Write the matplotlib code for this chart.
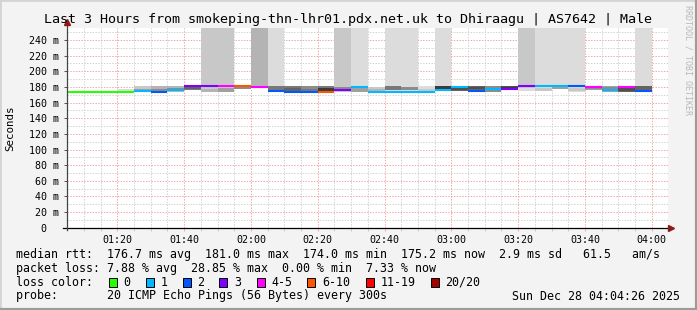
import numpy as np
import matplotlib.pyplot as plt
from matplotlib.patches import Rectangle
from matplotlib.lines import Line2D

# smokeping graph, 5 minute rrd steps starting 01:05 (minutes after midnight)
step_start = 65
step_len = 5

# median rtt per step (ms) and loss colour class index
median = [174, 174, 174, 174, 175, 174, 176.5, 181, 181, 181, 181, 180,
          175.2, 174, 174, 174, 176, 179.5, 174, 174, 174, 174, 175.5, 180,
          175, 178, 177, 181.5, 181, 181, 181, 180, 176.5, 180, 175.2]
loss_class = [0, 0, 0, 0, 1, 2, 1, 3, 3, 4, 5, 4,
              2, 2, 2, 5, 3, 1, 1, 1, 1, 1, 1, 1,
              2, 1, 3, 3, 1, 1, 2, 4, 1, 4, 2]

# smoke: outer band (all pings) and inner band, 300 = off the scale
outer_lo = [174, 174, 174, 174, 174, 174, 174, 176, 174, 173, 177, 177,
            175, 174, 174, 174, 174, 174, 174, 174, 174, 174, 175, 175,
            175, 174, 176, 175, 175, 177, 174, 176, 174, 174, 174]
outer_hi = [174, 174, 174, 178, 181, 181, 181, 181, 300, 300, 181, 300,
            300, 181, 181, 181, 300, 300, 180, 300, 300, 181, 300, 181,
            181, 181, 181, 300, 300, 300, 300, 180, 181, 180, 300]
outer_gray = ['#dcdcdc', '#dcdcdc', '#dcdcdc', '#dcdcdc', '#c8c8c8', '#b4b4b4',
              '#b4b4b4', '#787878', '#c8c8c8', '#c8c8c8', '#a0a0a0', '#b4b4b4',
              '#dcdcdc', '#787878', '#8c8c8c', '#787878', '#c8c8c8', '#dcdcdc',
              '#c8c8c8', '#dcdcdc', '#dcdcdc', '#dcdcdc', '#dcdcdc', '#646464',
              '#646464', '#8c8c8c', '#505050', '#c8c8c8', '#dcdcdc', '#dcdcdc',
              '#dcdcdc', '#a0a0a0', '#a0a0a0', '#646464', '#dcdcdc']
inner_lo = [174, 174, 174, 174, 175, 174, 176, 177, 174, 174, 178, 176,
            175, 175, 175, 175, 175, 174, 175, 176, 176, 175, 177, 176,
            177, 176, 178, 175, 175, 178, 175, 177, 177, 175, 176]
inner_hi = [174, 174, 174, 174, 178, 178, 179, 180, 177, 179, 181, 179,
            181, 179, 178, 179, 180, 179, 177, 181, 180, 178, 181, 179,
            180, 179, 180, 179, 179, 180, 179, 179, 180, 179, 181]
inner_gray = ['#dcdcdc', '#dcdcdc', '#dcdcdc', '#dcdcdc', '#a0a0a0', '#8c8c8c',
              '#8c8c8c', '#646464', '#b4b4b4', '#a0a0a0', '#8c8c8c', '#ffffff',
              '#787878', '#646464', '#787878', '#3c3c3c', '#8c8c8c', '#a0a0a0',
              '#b4b4b4', '#787878', '#8c8c8c', '#c8c8c8', '#3c3c3c', '#505050',
              '#505050', '#787878', '#3c3c3c', '#dcdcdc', '#c8c8c8', '#a0a0a0',
              '#c8c8c8', '#8c8c8c', '#8c8c8c', '#505050', '#646464']

loss_labels = ['0', '1', '2', '3', '4-5', '6-10', '11-19', '20/20']
loss_colors = ['#26ff00', '#00b8ff', '#0059ff', '#7e00ff', '#ff00ff',
               '#ff5500', '#ff0000', '#a10000']

xtick_minutes = [80, 100, 120, 140, 160, 180, 200, 220, 240]
xtick_labels = ['01:20', '01:40', '02:00', '02:20', '02:40', '03:00',
                '03:20', '03:40', '04:00']
ytick_values = [0, 20, 40, 60, 80, 100, 120, 140, 160, 180, 200, 220, 240]
ytick_labels = ['0  ', '20 m', '40 m', '60 m', '80 m', '100 m', '120 m',
                '140 m', '160 m', '180 m', '200 m', '220 m', '240 m']

title = 'Last 3 Hours from smokeping-thn-lhr01.pdx.net.uk to Dhiraagu | AS7642 | Male'
rtt_line = 'median rtt:  176.7 ms avg  181.0 ms max  174.0 ms min  175.2 ms now  2.9 ms sd   61.5   am/s'
loss_line = 'packet loss: 7.88 % avg  28.85 % max  0.00 % min  7.33 % now'
probe_line = 'probe:       20 ICMP Echo Pings (56 Bytes) every 300s'
stamp = 'Sun Dec 28 04:04:26 2025'

MONO = 'DejaVu Sans Mono'
W, H = 697, 310
BG = '#f3f3f3'


def fx(px):
    return px / W


def fy(py):
    return 1 - py / H


fig = plt.figure(figsize=(W / 100, H / 100), dpi=100, facecolor=BG)
ax = fig.add_axes([fx(66.7), fy(227.7), fx(668.3) - fx(66.7), fy(28.3) - fy(227.7)])
ax.set_facecolor('white')
ax.set_xlim(64.85, 244.97)
ax.set_ylim(0, 255)

# grid (minor grey, major red), dotted like rrdtool
for m in range(65, 245, 5):
    if m % 20 == 0:
        continue
    ax.axvline(m, color='#d2d2d2', lw=0.72, ls=(0, (1.4, 1.4)), zorder=1)
for v in range(10, 255, 20):
    ax.axhline(v, color='#d2d2d2', lw=0.72, ls=(0, (1.4, 1.4)), zorder=1)
for m in xtick_minutes:
    ax.axvline(m, color='#f2a8a8', lw=0.72, ls=(0, (1.4, 1.4)), zorder=1)
for v in ytick_values[1:]:
    ax.axhline(v, color='#f2a8a8', lw=0.72, ls=(0, (1.4, 1.4)), zorder=1)

t = step_start + step_len * np.arange(len(median))
olo = np.array(outer_lo, dtype=float)
ohi = np.array(outer_hi, dtype=float)
ilo = np.array(inner_lo, dtype=float)
ihi = np.array(inner_hi, dtype=float)

ax.bar(t, ohi - olo, bottom=olo, width=step_len, align='edge',
       color=outer_gray, linewidth=0, zorder=2)
ax.bar(t, ihi - ilo, bottom=ilo, width=step_len, align='edge',
       color=inner_gray, linewidth=0, zorder=3)
ax.hlines(median, t, t + step_len, colors=[loss_colors[c] for c in loss_class],
          lw=1.5, zorder=4)

# axes, ticks
for s in ax.spines.values():
    s.set_visible(False)
ax.set_xticks(xtick_minutes)
ax.set_xticklabels(xtick_labels, family=MONO, fontsize=7.2)
ax.set_yticks(ytick_values)
ax.set_yticklabels(ytick_labels, family=MONO, fontsize=7.2)
ax.set_xticks(list(range(65, 245, 5)), minor=True)
ax.tick_params(axis='x', which='major', length=2.2, width=0.7, color='#f2a8a8', pad=3)
ax.tick_params(axis='x', which='minor', length=2.2, width=0.7, color='#c8c8c8')
ax.tick_params(axis='y', which='major', length=2.5, width=0.7, color='#555555', pad=3)

ax.add_line(Line2D([-0.006, 1.004], [0, 0], transform=ax.transAxes, color='black',
                   lw=0.9, clip_on=False, zorder=6))
ax.add_line(Line2D([0, 0], [-0.01, 1.03], transform=ax.transAxes, color='#444444',
                   lw=0.9, clip_on=False, zorder=6))
ax.plot([1.004], [0], marker='>', ms=5, color='#8b1a1a', transform=ax.transAxes,
        clip_on=False, zorder=7)
ax.plot([0], [1.03], marker='^', ms=5, color='#8b1a1a', transform=ax.transAxes,
        clip_on=False, zorder=7)

# texts
fig.text(fx(348.5), fy(19), title, ha='center', va='center', family=MONO, fontsize=9.6)
fig.text(fx(10), fy(128), 'Seconds', rotation=90, ha='center', va='center',
         family=MONO, fontsize=7.8)
fig.text(fx(688), fy(60), 'RRDTOOL / TOBI OETIKER', rotation=270, ha='center',
         va='center', family=MONO, fontsize=6, color='#b8b8b8')

fig.text(fx(16), fy(254.3), rtt_line, va='center', family=MONO, fontsize=8.4)
fig.text(fx(16), fy(268.3), loss_line, va='center', family=MONO, fontsize=8.4)
fig.text(fx(16), fy(282.3), 'loss color:', va='center', family=MONO, fontsize=8.4)
fig.text(fx(16), fy(296), probe_line, va='center', family=MONO, fontsize=8.4)
fig.text(fx(680), fy(296), stamp, ha='right', va='center', family=MONO, fontsize=8.4)

box_x = [108.7, 145.7, 182.7, 219.3, 256.7, 307.3, 365.7, 430.7]
for bx, lab, col in zip(box_x, loss_labels, loss_colors):
    fig.add_artist(Rectangle((fx(bx), fy(286.5)), fx(8), 8.5 / H, facecolor=col,
                             edgecolor='black', lw=0.7, transform=fig.transFigure))
    fig.text(fx(bx + 14.6), fy(282.3), lab, va='center', family=MONO, fontsize=8.4)

# 3d frame around the image
fig.add_artist(Line2D([0, 0, 1], [0, 1, 1], transform=fig.transFigure,
                      color='#d4d4d4', lw=2))
fig.add_artist(Line2D([0, 1, 1], [0, 0, 1], transform=fig.transFigure,
                      color='#9c9c9c', lw=3))

fig.savefig('out.png', dpi=100, facecolor=BG)
